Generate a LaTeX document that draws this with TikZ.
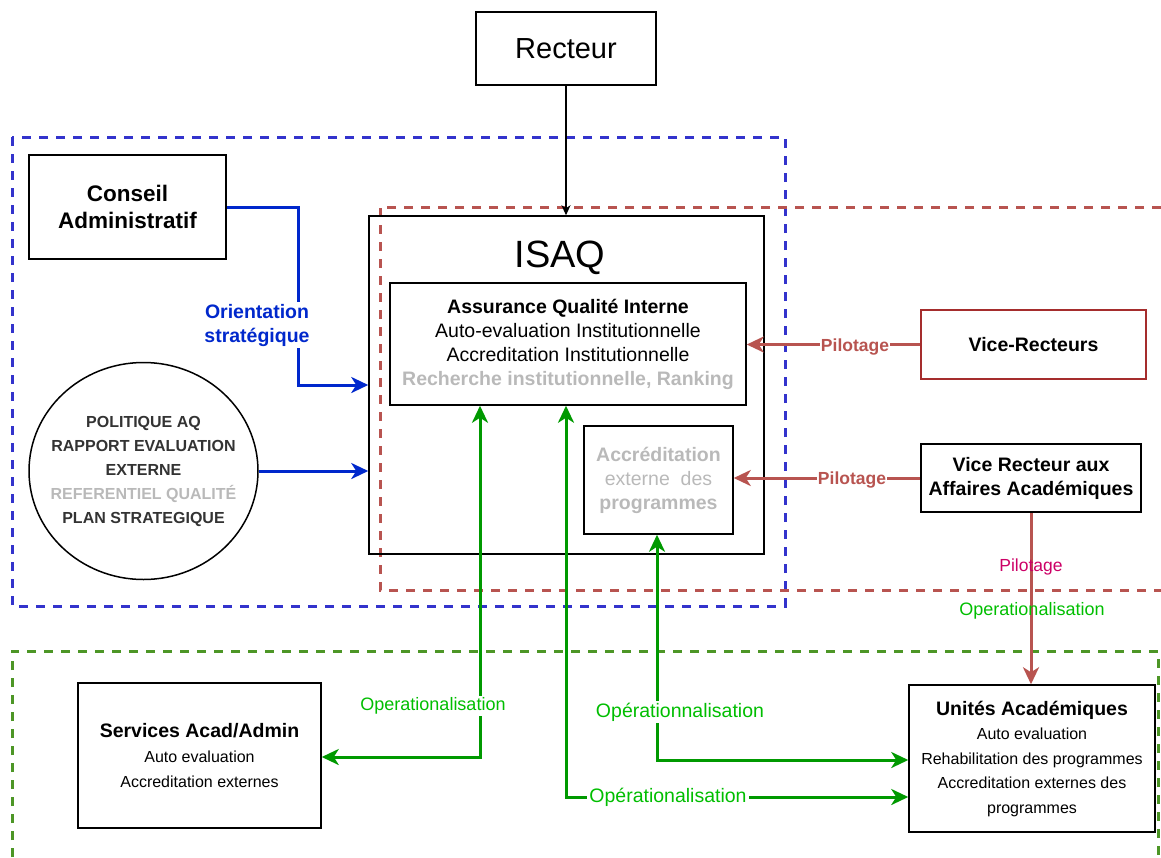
\documentclass[tikz,border=0pt]{standalone}
\usepackage{fontspec}
\setmainfont{Liberation Sans}
\usetikzlibrary{arrows.meta,shapes.geometric}

\definecolor{dashblue}{RGB}{51,51,204}
\definecolor{arrowblue}{RGB}{0,40,204}
\definecolor{pilotred}{RGB}{184,84,80}
\definecolor{vicered}{RGB}{165,45,45}
\definecolor{pilotpink}{RGB}{204,0,102}
\definecolor{dashgreen}{RGB}{77,150,38}
\definecolor{opgreen}{RGB}{0,153,0}
\definecolor{oplabel}{RGB}{0,190,0}
\definecolor{softgrey}{RGB}{185,185,185}
\definecolor{darkgrey}{RGB}{51,51,51}

\tikzset{
  unit/.style={draw, rectangle, line width=1.5pt, inner sep=0pt, align=center, font=\fontsize{19.5}{24}\selectfont},
  zone/.style={line width=3pt, dash pattern=on 9pt off 8pt},
  flow/.style={line width=3pt, -{Stealth[length=17pt,width=16pt,inset=5pt]}},
  flowboth/.style={line width=3pt, {Stealth[length=17pt,width=16pt,inset=5pt]}-{Stealth[length=17pt,width=16pt,inset=5pt]}},
  tag/.style={inner sep=2pt, align=center, font=\fontsize{19.5}{24}\selectfont},
}

\begin{document}
\begin{tikzpicture}[x=1pt,y=-1pt]
    \useasboundingbox (0,0) rectangle (1161,857);

    % zones
    \draw[zone, dashblue] (12,137) rectangle (785,606);
    \draw[zone, pilotred] (1161,207) -| (380,590) -- (1161,590);
    \draw[zone, dashgreen] (12,857) |- (1158,651) -- (1158,857);

    \node[unit, minimum width=180pt, minimum height=73pt, font=\fontsize{29}{32}\selectfont] (recteur) at (566,48.5) {Recteur};
    \node[unit, minimum width=395pt, minimum height=338pt] (isaq) at (566.5,385) {};
    \node[font=\fontsize{38}{40}\selectfont] (isaqtitle) at (560,258) {ISAQ};
    \node[unit, minimum width=356pt, minimum height=122pt] (aqi) at (568,344) {\textbf{Assurance Qualité Interne}\\Auto-evaluation Institutionnelle\\Accreditation Institutionnelle\\\textcolor{softgrey}{\textbf{Recherche institutionnelle, Ranking}}};
    \node[unit, minimum width=149pt, minimum height=108pt, text=softgrey] (accext) at (658.5,480) {\textbf{Accréditation}\\externe\ \ des\\\textbf{programmes}};

    \node[unit, minimum width=197pt, minimum height=104pt, font=\bfseries\fontsize{22.5}{27}\selectfont] (conseil) at (127.5,207) {Conseil\\Administratif};
    \node[draw, ellipse, line width=1.5pt, minimum width=229pt, minimum height=217pt, inner sep=0pt] (politique) at (143.5,471) {};
    \node[align=center, text=darkgrey, font=\bfseries\fontsize{16}{24}\selectfont] (politiquetext) at (politique.center) {POLITIQUE AQ\\RAPPORT EVALUATION\\EXTERNE\\\textcolor{softgrey}{REFERENTIEL QUALITÉ}\\PLAN STRATEGIQUE};

    \node[unit, draw=vicered, minimum width=225pt, minimum height=69pt, font=\bfseries\fontsize{19.5}{24}\selectfont] (vicerect) at (1033.5,344.5) {Vice-Recteurs};
    \node[unit, minimum width=220pt, minimum height=68pt, font=\bfseries\fontsize{19.5}{24}\selectfont] (vraa) at (1031,478) {Vice Recteur aux\\Affaires Académiques};

    \node[unit, minimum width=243pt, minimum height=145pt, font=\fontsize{19.5}{25}\selectfont] (services) at (199.5,755.5) {\textbf{Services Acad/Admin}\\{\fontsize{16}{25}\selectfont Auto evaluation}\\{\fontsize{16}{25}\selectfont Accreditation externes}};
    \node[unit, minimum width=246pt, minimum height=147pt, font=\fontsize{16}{24.5}\selectfont] (unites) at (1032,758.5) {{\bfseries\fontsize{19.5}{24.5}\selectfont Unités Académiques}\\Auto evaluation\\Rehabilitation des programmes\\Accreditation externes des\\programmes};

    % connectors
    \draw[line width=1.2pt, -{Stealth[length=10pt,width=9pt,inset=3pt]}] (recteur.south) -- (recteur.south |- isaq.north);
    \draw[flow, arrowblue] (conseil.east) -- ++(72,0) |- (isaq.west);
    \draw[flow, arrowblue] (politique.east) -- (politique.east -| isaq.west);
    \draw[flow, pilotred] (vicerect.west) -- (vicerect.west -| aqi.east);
    \draw[flow, pilotred] (vraa.west) -- (vraa.west -| accext.east);
    \draw[flow, pilotred] (vraa.south) -- (vraa.south |- unites.north);
    \draw[flowboth, opgreen] ([xshift=-88pt]aqi.south) |- ([yshift=-1.5pt]services.east);
    \draw[flowboth, opgreen] ([xshift=-2pt]aqi.south) |- ([yshift=-38.5pt]unites.west);
    \draw[flowboth, opgreen] ([xshift=-1.5pt]accext.south) |- ([yshift=-1.5pt]unites.west);

    % labels
    \node[tag, fill=white, text=arrowblue, font=\bfseries\fontsize{19.5}{24}\selectfont] (orient) at (257,325) {Orientation\\stratégique};
    \node[tag, fill=white, text=pilotred, font=\bfseries\fontsize{17.5}{20}\selectfont, inner sep=1pt] (pilotvr) at (855,347) {Pilotage};
    \node[tag, fill=white, text=pilotred, font=\bfseries\fontsize{17.5}{20}\selectfont, inner sep=1pt] (pilotvraa) at (852,480) {Pilotage};
    \node[tag, text=pilotpink, font=\fontsize{17.5}{20}\selectfont] (pilotunit) at (1031,567) {Pilotage};
    \node[tag, text=oplabel, font=\fontsize{18}{20}\selectfont] (opunit) at (1032,611) {Operationalisation};
    \node[tag, fill=white, text=oplabel, font=\fontsize{18}{20}\selectfont] (opserv) at (433,706) {Operationalisation};
    \node[tag, fill=white, text=oplabel] (opacc) at (680,712) {Opérationnalisation};
    \node[tag, fill=white, text=oplabel] (opaqi) at (668,797) {Opérationalisation};
\end{tikzpicture}
\end{document}
